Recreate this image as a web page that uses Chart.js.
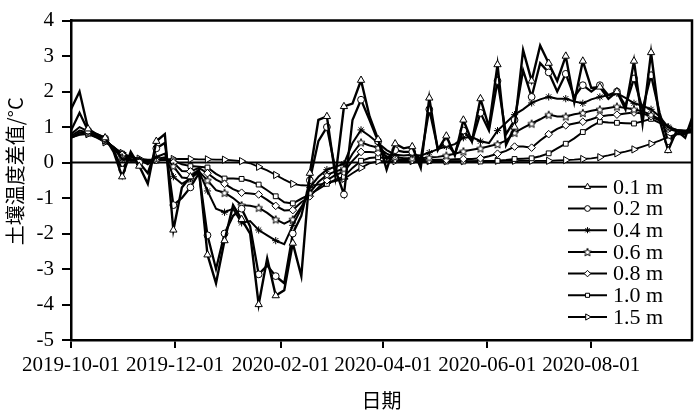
<!DOCTYPE html>
<html><head><meta charset="utf-8">
<script src="https://cdn.jsdelivr.net/npm/chart.js@4.4.1/dist/chart.umd.min.js"></script>
<style>html,body{margin:0;padding:0;background:#fff}canvas{display:block}</style>
</head><body>
<canvas id="c" width="700" height="414"></canvas>
<script>
const startDate = '2019-10-01';
const endDay = 364;
const dayOffsets = [0,5,10,15,20,25,30,35,40,45,50,55,60,65,70,75,80,85,90,95,100,105,110,115,120,125,130,135,140,145,150,155,160,165,170,175,180,185,190,195,200,205,210,215,220,225,230,235,240,245,250,255,260,265,270,275,280,285,290,295,300,305,310,315,320,325,330,335,340,345,350,355,360,364];
const tickDates = ['2019-10-01','2019-12-01','2020-02-01','2020-04-01','2020-06-01','2020-08-01'];
const yTicks = [4,3,2,1,0,-1,-2,-3,-4,-5];
const seriesNames = ['0.1 m','0.2 m','0.4 m','0.6 m','0.8 m','1.0 m','1.5 m'];
const yTitle = '土壤温度差值/°C';
const xTitle = '日期';

const d01 = [1.5,2.0,0.95,0.8,0.7,0.3,-0.4,0.3,-0.1,-0.6,
 0.6,0.8,-1.9,-0.7,-0.4,-0.2,-2.6,-3.4,-2.2,-1.2,
 -1.6,-2.0,-4.0,-2.7,-3.75,-3.6,-2.27,-3.2,-0.3,1.2,
 1.3,-0.4,1.58,1.66,2.32,1.3,0.65,-0.2,0.53,0.4,
 0.45,-0.15,1.82,0.35,0.75,0.2,1.2,0.6,1.8,1.0,
 2.76,0.5,1.0,3.17,2.3,3.3,2.8,2.3,3.0,1.7,
 2.86,2.1,2.13,1.8,2.0,1.5,2.86,1.1,3.1,1.2,
 0.34,0.9,0.7,1.25];
const d02 = [0.9,1.4,0.9,0.8,0.68,0.35,-0.2,0.2,0.0,-0.3,
 0.4,0.55,-1.2,-1.0,-0.7,-0.3,-2.05,-3.0,-2.0,-1.5,
 -1.3,-1.8,-3.15,-2.9,-3.2,-3.4,-2.0,-1.5,-0.5,0.6,
 1.0,-0.2,-0.9,1.2,1.77,1.2,0.6,0.1,0.35,0.3,
 0.3,0.1,1.5,0.4,0.55,0.25,0.9,0.6,1.4,0.9,
 2.3,0.8,1.2,2.6,1.85,2.8,2.54,2.0,2.5,1.85,
 2.18,2.0,2.18,1.9,2.0,1.6,2.37,1.5,2.46,1.4,
 0.6,0.8,0.8,1.1];
const d04 = [0.8,1.0,0.88,0.78,0.66,0.4,0.1,0.05,0.08,-0.05,
 0.15,0.25,-0.4,-0.6,-0.45,-0.25,-0.8,-1.3,-1.4,-1.3,
 -1.7,-1.65,-1.9,-2.05,-2.2,-2.3,-1.77,-1.3,-0.7,-0.4,
 -0.2,-0.12,-0.03,0.55,0.92,0.75,0.55,0.35,0.22,0.2,
 0.22,0.2,0.28,0.38,0.45,0.52,0.7,0.72,0.6,0.55,
 0.9,1.12,1.35,1.5,1.68,1.78,1.85,1.8,1.8,1.72,
 1.67,1.78,1.85,1.9,1.95,1.82,1.67,1.6,1.5,1.3,
 1.0,0.92,0.9,0.95];
const d06 = [0.75,0.9,0.85,0.76,0.64,0.42,0.15,0.05,0.05,0.0,
 0.1,0.15,-0.1,-0.42,-0.45,-0.25,-0.5,-0.78,-0.85,-1.0,
 -1.2,-1.22,-1.27,-1.42,-1.6,-1.72,-1.6,-1.25,-0.85,-0.55,
 -0.35,-0.25,-0.17,0.25,0.57,0.48,0.42,0.25,0.16,0.12,
 0.12,0.12,0.14,0.16,0.2,0.25,0.32,0.36,0.4,0.46,
 0.52,0.62,0.84,0.98,1.1,1.22,1.35,1.3,1.3,1.36,
 1.4,1.46,1.5,1.54,1.58,1.54,1.5,1.44,1.35,1.22,
 1.0,0.92,0.88,0.9];
const d08 = [0.7,0.85,0.84,0.74,0.62,0.44,0.22,0.08,0.05,0.03,
 0.07,0.1,0.0,-0.24,-0.25,-0.15,-0.3,-0.48,-0.6,-0.75,
 -0.85,-0.87,-0.9,-1.05,-1.22,-1.35,-1.34,-1.12,-0.95,-0.7,
 -0.5,-0.35,-0.26,0.05,0.3,0.3,0.28,0.18,0.1,0.08,
 0.07,0.07,0.07,0.08,0.08,0.09,0.1,0.1,0.12,0.18,
 0.25,0.33,0.45,0.45,0.42,0.62,0.8,0.95,1.05,1.1,
 1.15,1.22,1.3,1.33,1.35,1.38,1.41,1.38,1.3,1.18,
 0.95,0.9,0.87,0.88];
const d10 = [0.7,0.8,0.82,0.72,0.6,0.44,0.25,0.1,0.06,0.05,
 0.06,0.08,0.06,-0.05,-0.1,-0.12,-0.14,-0.32,-0.45,-0.45,
 -0.46,-0.52,-0.62,-0.78,-0.95,-1.12,-1.15,-1.02,-0.9,-0.75,
 -0.6,-0.48,-0.4,-0.15,0.05,0.13,0.15,0.12,0.08,0.06,
 0.05,0.05,0.04,0.04,0.03,0.03,0.03,0.03,0.03,0.04,
 0.05,0.07,0.1,0.11,0.12,0.18,0.26,0.4,0.53,0.68,
 0.86,1.02,1.15,1.13,1.12,1.11,1.1,1.16,1.23,1.12,
 0.95,0.88,0.85,0.86];
const d15 = [0.7,0.78,0.8,0.7,0.57,0.42,0.27,0.16,0.11,0.08,
 0.08,0.09,0.1,0.1,0.1,0.09,0.09,0.08,0.08,0.06,
 0.04,-0.02,-0.12,-0.22,-0.35,-0.48,-0.6,-0.64,-0.65,-0.62,
 -0.58,-0.52,-0.46,-0.3,-0.15,-0.02,0.04,0.04,0.04,0.04,
 0.04,0.04,0.04,0.04,0.04,0.04,0.04,0.04,0.05,0.05,
 0.05,0.05,0.05,0.05,0.05,0.05,0.05,0.06,0.07,0.08,
 0.1,0.12,0.15,0.2,0.26,0.31,0.37,0.45,0.53,0.62,
 0.72,0.8,0.83,0.85];
const seriesValues = [d01,d02,d04,d06,d08,d10,d15];

function dayOf(s){ const p=s.split('-').map(Number); const q=startDate.split('-').map(Number);
  return Math.round((Date.UTC(p[0],p[1]-1,p[2]) - Date.UTC(q[0],q[1]-1,q[2]))/86400000); }
const tickDays = tickDates.map(dayOf);

function makeStar(r){
  const s = Math.ceil(r*2+3); const c=document.createElement('canvas'); c.width=s; c.height=s;
  const g=c.getContext('2d'); g.translate(s/2,s/2+0.5); g.beginPath();
  for(let i=0;i<10;i++){ const a=-Math.PI/2+i*Math.PI/5; const rr=i%2?r*0.45:r; g.lineTo(rr*Math.cos(a), rr*Math.sin(a)); }
  g.closePath(); g.fillStyle='#fff'; g.fill(); g.lineWidth=1; g.strokeStyle='#000'; g.stroke(); return c;
}
const starImg = makeStar(4.2);
const markerStyles = [
  {ps:'triangle', r:4.2, rot:0, w:2.4},
  {ps:'circle', r:3.4, rot:0, w:2.3},
  {ps:'star', r:3.6, rot:0, w:2},
  {ps:starImg, r:4, rot:0, w:2},
  {ps:'rectRot', r:3.8, rot:0, w:2},
  {ps:'rect', r:3.4, rot:0, w:2},
  {ps:'triangle', r:4.2, rot:90, w:1.8}
];

const datasets = seriesValues.map((vals,k)=>({
  label: seriesNames[k],
  data: vals.map((v,i)=>({x:dayOffsets[i], y:v})),
  borderColor:'#000', borderWidth:markerStyles[k].w, tension:0, fill:false,
  pointStyle: markerStyles[k].ps, pointRotation: markerStyles[k].rot,
  pointRadius: ctx => (ctx.dataIndex % 2 === 0 && ctx.dataIndex>0 && ctx.dataIndex<72) ? markerStyles[k].r : 0,
  pointHoverRadius: 0,
  pointBackgroundColor:'#fff', pointBorderColor:'#000', pointBorderWidth:1
}));

const frame = {
  id:'frame',
  beforeDatasetsDraw(chart){
    const {ctx, chartArea:a, scales} = chart; const y0 = scales.y.getPixelForValue(0);
    ctx.save(); ctx.strokeStyle='#000'; ctx.lineWidth=2;
    ctx.beginPath(); ctx.moveTo(a.left,y0); ctx.lineTo(a.right,y0); ctx.stroke(); ctx.restore();
  },
  afterDraw(chart){
    const {ctx, chartArea:a} = chart;
    ctx.save(); ctx.strokeStyle='#000'; ctx.lineWidth=2.5;
    ctx.beginPath(); ctx.moveTo(a.left-1,a.top); ctx.lineTo(a.right,a.top); ctx.lineTo(a.right,a.bottom+1); ctx.stroke();
    // y-axis title
    ctx.save(); ctx.translate(15, (a.top+a.bottom)/2 - 9); ctx.rotate(-Math.PI/2);
    ctx.font = '20px "Noto Sans CJK SC"'; ctx.textAlign='center'; ctx.textBaseline='middle'; ctx.fillStyle='#000';
    ctx.fillText(yTitle, 0, 0); ctx.restore();
    // legend
    const x0 = a.right-124, x1 = a.right-85, tx = a.right-79;
    ctx.font = '22px "Liberation Serif"'; ctx.textBaseline='middle'; ctx.textAlign='left'; ctx.fillStyle='#000';
    for(let i=0;i<seriesNames.length;i++){
      const y = a.bottom - 23 - (seriesNames.length-1-i)*21.7;
      ctx.lineWidth=2; ctx.strokeStyle='#000';
      ctx.beginPath(); ctx.moveTo(x0,y); ctx.lineTo(x1,y); ctx.stroke();
      ctx.fillStyle='#fff'; ctx.lineWidth=1;
      Chart.helpers.drawPoint(ctx,{pointStyle:markerStyles[i].ps, radius:markerStyles[i].r*0.85, rotation:markerStyles[i].rot, borderWidth:1}, (x0+x1)/2, y);
      ctx.fillStyle='#000';
      ctx.fillText(seriesNames[i], tx, y+1);
    }
    ctx.restore();
  }
};

new Chart(document.getElementById('c'), {
  type:'line',
  data:{datasets},
  plugins:[frame],
  options:{
    responsive:false, animation:false, events:[],
    layout:{padding:{left:0,right:8,top:12,bottom:0}},
    plugins:{legend:{display:false}, tooltip:{enabled:false}},
    scales:{
      x:{ type:'linear', min:0, max:endDay,
        afterBuildTicks: s => { s.ticks = tickDays.map(v=>({value:v})); },
        ticks:{ autoSkip:false, maxRotation:0, color:'#000', padding:5,
          font:{family:'Liberation Serif', size:21},
          callback: v => { const i = tickDays.indexOf(v); return i>=0 ? tickDates[i] : ''; } },
        grid:{ drawOnChartArea:false, drawTicks:true, tickLength:8, color:'#000', lineWidth:2 },
        border:{ display:true, color:'#000', width:2.5 },
        title:{ display:true, text:xTitle, color:'#000', font:{family:'Noto Sans CJK SC', size:20}, padding:{top:0,bottom:2} },
        afterFit: s => { s.height = 74; }
      },
      y:{ min:-5, max:4,
        afterBuildTicks: s => { s.ticks = yTicks.map(v=>({value:v})); },
        ticks:{ color:'#000', padding:8, font:{family:'Liberation Serif', size:21} },
        grid:{ drawOnChartArea:false, drawTicks:true, tickLength:9, color:'#000', lineWidth:2 },
        border:{ display:true, color:'#000', width:2.5 },
        title:{ display:false },
        afterFit: s => { s.width = 71; }
      }
    }
  }
});
</script>
</body></html>
